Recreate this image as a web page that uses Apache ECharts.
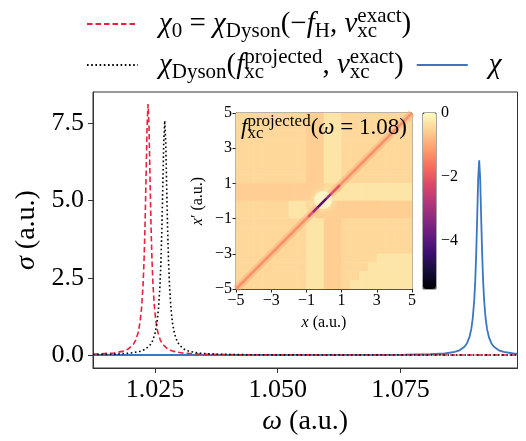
<!DOCTYPE html>
<html lang="en">
<head>
<meta charset="UTF-8">
<title>chi spectra</title>
<script src="https://cdn.jsdelivr.net/npm/echarts@6/dist/echarts.min.js"></script>
<style>html,body{margin:0;padding:0;background:#fff}</style>
</head>
<body>
<div id="main" style="width:526px;height:441px;"></div>
<script>
// chi_0 = chi_Dyson(-f_H, v_xc^exact)  (red dashed)
var omegaRed = [1.0124, 1.0166, 1.0186, 1.0196, 1.0206, 1.0211, 1.0216, 1.0220, 1.0223, 1.0226, 1.0228, 1.0230, 1.0232, 1.0234, 1.0236, 1.0238, 1.0240, 1.0242, 1.0244, 1.0246, 1.0249, 1.0252, 1.0256, 1.0261, 1.0266, 1.0276, 1.0286, 1.0306, 1.0336, 1.0386, 1.0436, 1.0536, 1.0736, 1.0988];
var sigmaRed = [0.026, 0.065, 0.127, 0.197, 0.343, 0.485, 0.734, 1.09, 1.55, 2.31, 3.11, 4.26, 5.79, 7.39, 8.13, 7.39, 5.79, 4.26, 3.11, 2.31, 1.55, 1.09, 0.734, 0.485, 0.343, 0.197, 0.127, 0.065, 0.032, 0.014, 0.008, 0.004, 0.0013, 0.0006];
// chi_Dyson(f_xc^projected, v_xc^exact)  (black dotted)
var omegaDot = [1.0124, 1.0170, 1.0200, 1.0220, 1.0230, 1.0240, 1.0245, 1.0250, 1.0254, 1.0257, 1.0260, 1.0262, 1.0264, 1.0266, 1.0268, 1.0270, 1.0272, 1.0274, 1.0276, 1.0278, 1.0280, 1.0283, 1.0286, 1.0290, 1.0295, 1.0300, 1.0310, 1.0320, 1.0340, 1.0370, 1.0420, 1.0470, 1.0570, 1.0770, 1.0988];
var sigmaDot = [0.014, 0.030, 0.061, 0.119, 0.184, 0.320, 0.453, 0.685, 1.02, 1.45, 2.16, 2.90, 3.98, 5.41, 6.90, 7.59, 6.90, 5.41, 3.98, 2.90, 2.16, 1.45, 1.02, 0.685, 0.453, 0.320, 0.184, 0.119, 0.061, 0.030, 0.013, 0.0075, 0.0034, 0.0012, 0.0006];
// exact chi  (blue)
var omegaBlue = [1.0124, 1.0410, 1.0610, 1.0710, 1.0760, 1.0810, 1.0840, 1.0860, 1.0870, 1.0880, 1.0885, 1.0890, 1.0894, 1.0897, 1.0900, 1.0902, 1.0904, 1.0906, 1.0908, 1.0910, 1.0912, 1.0914, 1.0916, 1.0918, 1.0920, 1.0923, 1.0926, 1.0930, 1.0935, 1.0940, 1.0950, 1.0960, 1.0980, 1.0988];
var sigmaBlue = [0.0004, 0.0010, 0.0028, 0.0062, 0.011, 0.025, 0.050, 0.099, 0.153, 0.266, 0.376, 0.570, 0.846, 1.20, 1.79, 2.41, 3.31, 4.49, 5.73, 6.31, 5.73, 4.49, 3.31, 2.41, 1.79, 1.20, 0.846, 0.570, 0.376, 0.266, 0.153, 0.099, 0.050, 0.041];

var xTicks = [1.025, 1.05, 1.075];
var yTicks = [0, 2.5, 5, 7.5];

// inset: f_xc^projected(x, x') read as coarse levels, rows from x'=5 (top) to x'=-5, cols x=-5..5
var fxcLevels = { a: -0.30, b: -0.44, c: -0.56 };
var fxcRows = [
  'bbbbbbbbccaabbbbbbbb',
  'bbbbbbbbccaabbbbbbbb',
  'bbbbbbbbccaabbbbbbbb',
  'bbbbbbbbccaabbbbbbbb',
  'bbbbbbbbccaabbbbbbbb',
  'bbbbbbbbccaabbbbbbbb',
  'bbbbbbbbccaabbbbbbbb',
  'bbbbbbbbccaabbbbbbbb',
  'ccccccccccbbaaaaaaaa',
  'ccccccccccbaaaaaaaaa',
  'bbbbbbaabccccccccccc',
  'bbbbbbaaaccccccccccc',
  'bbbbbbbbaaccbbbbbbbb',
  'bbbbbbbbaaccbbbbbbbb',
  'bbbbbbbbaaccbbbbbbbb',
  'bbbbbbbbaaccbbbbbbbb',
  'bbbbbbbbaaccbbbbaaaa',
  'bbbbbbbbaaccbbbaaaaa',
  'bbbbbbbbaaccbbaaaaaa',
  'bbbbbbbbaaccbaaaaaaa'
];
// diagonal feature x = x'
var diagFull = [-5, 5];
var diagRed = [-0.9, 0.9];
var diagPurple = [-0.62, 0.38];
var diagCore = [-0.35, 0.12];
var blobCenter = [-0.05, 0.05];
var insetTicks = [-5, -3, -1, 1, 3, 5];
var cbarTicks = [0, -2, -4];
var cbarMin = -5.53, cbarMax = 0;

var magma = ['#000004', '#140e36', '#3b0f70', '#641a80', '#8c2981', '#b73779', '#de4968', '#f7705c', '#fe9f6d', '#fecf92', '#fcfdbf'];

function pairs(xs, ys) { return xs.map(function (x, i) { return [x, ys[i]]; }); }
function diag(seg) { return seg.map(function (t) { return [t, t]; }); }

var heatData = [];
var nGrid = fxcRows.length;
fxcRows.forEach(function (row, r) {
  for (var c = 0; c < row.length; c++) {
    heatData.push([c, nGrid - 1 - r, fxcLevels[row[c]]]);
  }
});
var cats = [];
for (var i = 0; i < nGrid; i++) cats.push(i);

var serif = 'Liberation Serif';
function minus(v) { return String(v).replace('-', '\u2212'); }

// rich styles for math text; z = zero-width subscript stacked under the next superscript
function mathRich(size, lh) {
  var s = Math.round(size * 0.72);
  var base = { fontFamily: serif, fontWeight: 'normal', color: '#000' };
  function st(o) { return Object.assign({}, base, o); }
  return {
    m: st({ fontStyle: 'italic', fontSize: size, lineHeight: lh }),
    r: st({ fontSize: size, lineHeight: lh }),
    s: st({ fontSize: s, lineHeight: Math.round(lh * 0.56), verticalAlign: 'bottom' }),
    z: st({ fontSize: s, lineHeight: Math.round(lh * 0.56), verticalAlign: 'bottom', width: 0, align: 'left' }),
    p: st({ fontSize: s, lineHeight: Math.round(lh * 0.53), verticalAlign: 'top' })
  };
}

var legendText = {
  chi0: '{m|\u03c7}{s|0}{r| = }{m|\u03c7}{s|Dyson}{r|(\u2212}{m|f}{s|H}{r|, }{m|v}{z|xc}{p|exact}{r|)}',
  chiProj: '{m|\u03c7}{s|Dyson}{r|(}{m|f}{z|xc}{p|projected}{r|, }{m|v}{z|xc}{p|exact}{r|)}',
  chi: '{m|\u03c7}'
};

var myChart = echarts.init(document.getElementById('main'));

var legendStyle = { fontFamily: serif, fontSize: 29, fontWeight: 'normal', color: '#000', padding: [0, 0, 0, 16], rich: mathRich(29, 36) };

var option = {
  animation: false,
  title: {
    left: 241, top: 113, padding: 0, z: 20,
    text: '{m|f}{z|xc}{p|projected}{r|(}{m|\u03c9}{r| = 1.08)}',
    textStyle: { fontFamily: serif, fontWeight: 'normal', fontSize: 23, rich: mathRich(23, 29) }
  },
  legend: [
    {
      data: ['chi0'], left: 86, top: 6, padding: 0,
      itemWidth: 51, itemHeight: 36, itemStyle: { opacity: 0 },
      formatter: function (n) { return legendText[n]; },
      textStyle: legendStyle
    },
    {
      data: ['chiProj', 'chi'], left: 86, top: 47, padding: 0, itemGap: 12,
      itemWidth: 51, itemHeight: 36, itemStyle: { opacity: 0 },
      formatter: function (n) { return legendText[n]; },
      textStyle: legendStyle
    }
  ],
  grid: [
    { left: 93, top: 92, width: 424.5, height: 276, show: true, borderColor: '#333', borderWidth: 1 },
    { left: 236, top: 113, width: 176, height: 176 },
    { left: 236, top: 113, width: 176, height: 176, show: true, borderColor: '#222', borderWidth: 0.8 },
    { left: 423, top: 113, width: 13, height: 176, show: true, borderColor: '#222', borderWidth: 0.8 }
  ],
  xAxis: [
    {
      gridIndex: 0, type: 'value', min: 1.0124, max: 1.0988,
      name: '{m|\u03c9} (a.u.)', nameLocation: 'middle', nameGap: 40,
      nameTextStyle: { fontFamily: serif, fontSize: 28, color: '#000', rich: { m: { fontFamily: serif, fontStyle: 'italic', fontSize: 28 } } },
      axisLine: { onZero: false, lineStyle: { color: '#333' } },
      axisTick: { customValues: xTicks, length: 5, lineStyle: { color: '#333' } },
      axisLabel: { customValues: xTicks, fontFamily: serif, fontSize: 26, color: '#000', margin: 9,
        formatter: function (v) { return v.toFixed(3); } },
      splitLine: { show: false }
    },
    { gridIndex: 1, type: 'category', data: cats, show: false },
    {
      gridIndex: 2, type: 'value', min: -5, max: 5,
      name: '{m|x} (a.u.)', nameLocation: 'middle', nameGap: 26,
      nameTextStyle: { fontFamily: serif, fontSize: 16, color: '#000', rich: { m: { fontFamily: serif, fontStyle: 'italic', fontSize: 16 } } },
      axisLine: { onZero: false, lineStyle: { color: '#222' } },
      axisTick: { customValues: insetTicks, length: 3.5, lineStyle: { color: '#222' } },
      axisLabel: { customValues: insetTicks, fontFamily: serif, fontSize: 16, color: '#000', margin: 4, formatter: minus },
      splitLine: { show: false }
    },
    { gridIndex: 3, type: 'value', min: 0, max: 1, show: false }
  ],
  yAxis: [
    {
      gridIndex: 0, type: 'value', min: -0.42, max: 8.52,
      name: '{m|\u03c3} (a.u.)', nameLocation: 'middle', nameGap: 48,
      nameTextStyle: { fontFamily: serif, fontSize: 28, color: '#000', rich: { m: { fontFamily: serif, fontStyle: 'italic', fontSize: 28 } } },
      axisLine: { onZero: false, lineStyle: { color: '#333' } },
      axisTick: { customValues: yTicks, length: 5, lineStyle: { color: '#333' } },
      axisLabel: { customValues: yTicks, fontFamily: serif, fontSize: 26, color: '#000', margin: 9,
        formatter: function (v) { return v.toFixed(1); } },
      splitLine: { show: false }
    },
    { gridIndex: 1, type: 'category', data: cats, show: false },
    {
      gridIndex: 2, type: 'value', min: -5, max: 5,
      name: "{m|x}\u2032 (a.u.)", nameLocation: 'middle', nameGap: 30,
      nameTextStyle: { fontFamily: serif, fontSize: 16, color: '#000', rich: { m: { fontFamily: serif, fontStyle: 'italic', fontSize: 16 } } },
      axisLine: { onZero: false, lineStyle: { color: '#222' } },
      axisTick: { customValues: insetTicks, length: 3.5, lineStyle: { color: '#222' } },
      axisLabel: { customValues: insetTicks, fontFamily: serif, fontSize: 16, color: '#000', margin: 4, formatter: minus },
      splitLine: { show: false }
    },
    {
      gridIndex: 3, type: 'value', min: cbarMin, max: cbarMax, position: 'right',
      axisLine: { show: false },
      axisTick: { customValues: cbarTicks, length: 3.5, lineStyle: { color: '#222' } },
      axisLabel: { customValues: cbarTicks, fontFamily: serif, fontSize: 16, color: '#000', margin: 5, formatter: minus },
      splitLine: { show: false }
    }
  ],
  visualMap: {
    type: 'continuous', seriesIndex: 3, dimension: 2,
    min: cbarMin, max: cbarMax, calculable: false, hoverLink: false,
    left: 423, top: 113, itemWidth: 13, itemHeight: 176, padding: 0,
    inRange: { color: magma }
  },
  series: [
    {
      name: 'chi', type: 'line', xAxisIndex: 0, yAxisIndex: 0, z: 2,
      data: pairs(omegaBlue, sigmaBlue), symbol: 'none',
      lineStyle: { color: '#3b76c0', width: 1.8 }, itemStyle: { color: '#3b76c0' }
    },
    {
      name: 'chi0', type: 'line', xAxisIndex: 0, yAxisIndex: 0, z: 3,
      data: pairs(omegaRed, sigmaRed), symbol: 'none',
      lineStyle: { color: '#e8213f', width: 1.6, type: [5.5, 3] }, itemStyle: { color: '#e8213f' }
    },
    {
      name: 'chiProj', type: 'line', xAxisIndex: 0, yAxisIndex: 0, z: 4,
      data: pairs(omegaDot, sigmaDot), symbol: 'none',
      lineStyle: { color: '#000', width: 1.6, type: [1.6, 2.6] }, itemStyle: { color: '#000' }
    },
    {
      type: 'heatmap', xAxisIndex: 1, yAxisIndex: 1, z: 5, data: heatData, progressive: 0
    },
    {
      type: 'line', xAxisIndex: 2, yAxisIndex: 2, z: 6, data: diag(diagFull), symbol: 'none', silent: true,
      lineStyle: { color: '#fbab78', width: 8, opacity: 0.45 }
    },
    {
      type: 'line', xAxisIndex: 2, yAxisIndex: 2, z: 7, data: diag(diagFull), symbol: 'none', silent: true,
      lineStyle: { color: '#f8926a', width: 2.6 }
    },
    {
      type: 'scatter', xAxisIndex: 2, yAxisIndex: 2, z: 8, data: [blobCenter], symbolSize: 18, silent: true,
      itemStyle: { color: '#fdf6c6', opacity: 0.95, shadowBlur: 10, shadowColor: '#fdf1b8' }
    },
    {
      type: 'line', xAxisIndex: 2, yAxisIndex: 2, z: 9, data: diag(diagRed), symbol: 'none', silent: true,
      lineStyle: { color: '#e4506a', width: 2.4 }
    },
    {
      type: 'line', xAxisIndex: 2, yAxisIndex: 2, z: 10, data: diag(diagPurple), symbol: 'none', silent: true,
      lineStyle: { color: '#8a2981', width: 2.2 }
    },
    {
      type: 'line', xAxisIndex: 2, yAxisIndex: 2, z: 11, data: diag(diagCore), symbol: 'none', silent: true,
      lineStyle: { color: '#4a1470', width: 2 }
    }
  ]
};

myChart.setOption(option);
</script>
</body>
</html>
